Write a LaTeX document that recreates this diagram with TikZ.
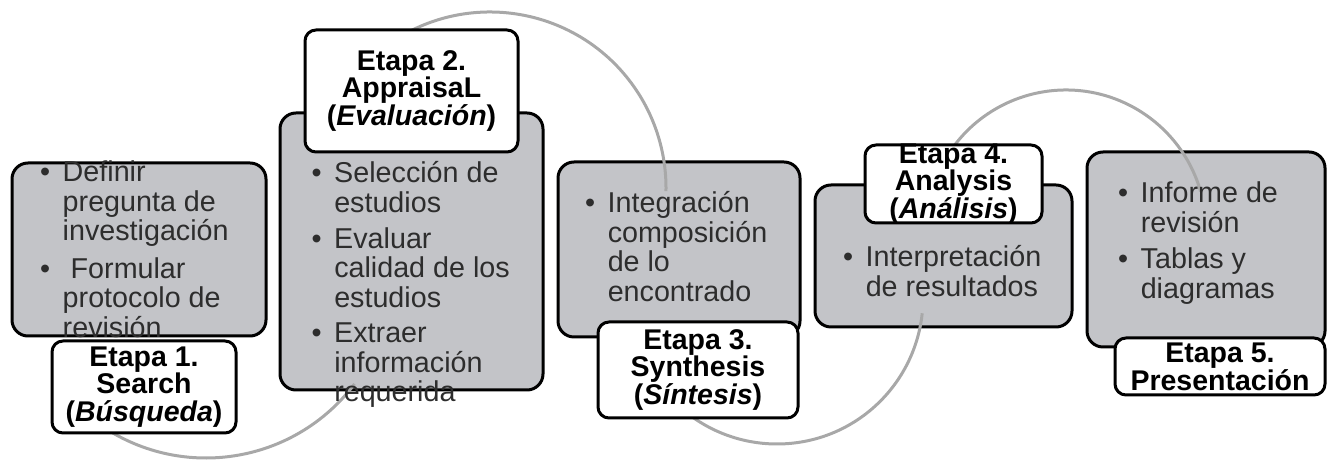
\documentclass[tikz,border=0pt]{standalone}
\usepackage{fontspec}
\setmainfont{Liberation Sans}
\definecolor{boxgray}{RGB}{195,196,200}
\definecolor{arcgray}{RGB}{168,168,168}
\definecolor{bodytext}{RGB}{45,45,45}
\newcommand{\bodyfont}{\fontsize{28.7}{28.3}\selectfont}
\newcommand{\labfont}{\fontsize{28.5}{27.8}\selectfont\bfseries}
\tikzset{
  graybox/.style={draw=black, line width=3pt, fill=boxgray, rounded corners=16pt, inner sep=0pt},
  labbox/.style={draw=black, line width=3pt, fill=white, rounded corners=11pt, inner sep=0pt},
  bodytxt/.style={anchor=base west, inner sep=0pt, text=bodytext, font=\bodyfont},
  labtxt/.style={anchor=center, inner sep=0pt, align=center, text=black, font=\labfont},
  arcline/.style={draw=arcgray, line width=3pt}
}
\begin{document}
\begin{tikzpicture}[x=1pt,y=1pt]
\useasboundingbox (0,0) rectangle (1327,462);
% gray content boxes
\node[graybox, minimum width=254pt, minimum height=173pt] (b1) at (139,212.5) {};
\node[graybox, minimum width=263pt, minimum height=277pt] (b2) at (411.5,210.5) {};
\node[graybox, minimum width=242pt, minimum height=175pt] (b3) at (679,212.5) {};
\node[graybox, minimum width=257pt, minimum height=142pt] (b4) at (943.5,206) {};
\node[graybox, minimum width=238pt, minimum height=195pt] (b5) at (1206,212.5) {};
% arcs
\coordinate (c1) at (206,190);
\coordinate (c2) at (490,274);
\coordinate (c3) at (777,164);
\coordinate (c4) at (1066,232);
\draw[arcline] (c1) ++(236:186) arc[start angle=236, end angle=323, radius=186];
\draw[arcline] (c2) ++(125:176) arc[start angle=125, end angle=-1, radius=176];
\draw[arcline] (c3) ++(225:146) arc[start angle=225, end angle=354, radius=146];
\draw[arcline] (c4) ++(150:140) arc[start angle=150, end angle=16, radius=140];
% label boxes
\node[labbox, minimum width=184pt, minimum height=92pt] (l1) at (144,75) {};
\node[labbox, minimum width=213pt, minimum height=122pt] (l2) at (411.5,371) {};
\node[labbox, minimum width=200pt, minimum height=96pt] (l3) at (698,92) {};
\node[labbox, minimum width=177pt, minimum height=78pt] (l4) at (953.5,278) {};
\node[labbox, minimum width=210pt, minimum height=57pt] (l5) at (1220,95.5) {};
% body texts
\node[bodytxt] (t1) at (40,280) {\begin{tabular}[t]{@{}l@{\hspace{12.5pt}}l@{}}
  \textbullet & Definir\\ & pregunta de\\ & investigación\\[8pt]
  \textbullet & \ Formular\\ & protocolo de\\ & revisión\end{tabular}};
\node[bodytxt] (t2) at (311.5,279) {\begin{tabular}[t]{@{}l@{\hspace{12.5pt}}l@{}}
  \textbullet & Selección de\\ & estudios\\[7pt]
  \textbullet & Evaluar\\ & calidad de los\\ & estudios\\[7pt]
  \textbullet & Extraer\\ & información\\ & requerida\end{tabular}};
\node[bodytxt] (t3) at (585,249) {\begin{tabular}[t]{@{}l@{\hspace{12.5pt}}l@{}}
  \textbullet & Integración\\ & composición\\ & de lo\\ & encontrado\end{tabular}};
\node[bodytxt] (t4) at (843,195) {\begin{tabular}[t]{@{}l@{\hspace{12.5pt}}l@{}}
  \textbullet & Interpretación\\ & de resultados\end{tabular}};
\node[bodytxt] (t5) at (1118,259) {\begin{tabular}[t]{@{}l@{\hspace{12.5pt}}l@{}}
  \textbullet & Informe de\\ & revisión\\[7pt]
  \textbullet & Tablas y\\ & diagramas\end{tabular}};
% label texts
\node[labtxt] (lt1) at (l1.center) {Etapa 1.\\Search\\(\textit{Búsqueda})};
\node[labtxt] (lt2) at (l2.center) {Etapa 2.\\AppraisaL\\(\textit{Evaluación})};
\node[labtxt] (lt3) at (l3.center) {Etapa 3.\\Synthesis\\(\textit{Síntesis})};
\node[labtxt] (lt4) at (l4.center) {Etapa 4.\\Analysis\\(\textit{Análisis})};
\node[labtxt] (lt5) at (l5.center) {Etapa 5.\\Presentación};
\end{tikzpicture}
\end{document}
